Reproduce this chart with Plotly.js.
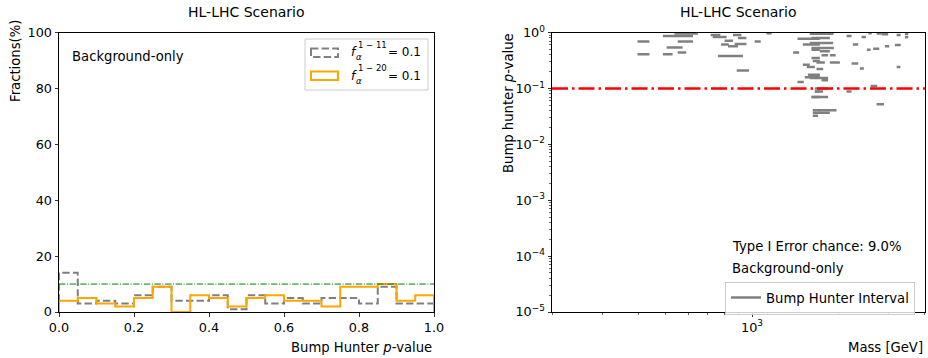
<!DOCTYPE html>
<html>
<head>
<meta charset="utf-8">
<script src="https://cdn.plot.ly/plotly-3.0.1.min.js"></script>
<style>body{margin:0;padding:0;background:#fff}#chart{width:928px;height:358px}</style>
</head>
<body>
<div id="chart"></div>
<script>
// ---------- data: left histogram ----------
const binEdges = [0.00,0.05,0.10,0.15,0.20,0.25,0.30,0.35,0.40,0.45,0.50,0.55,0.60,0.65,0.70,0.75,0.80,0.85,0.90,0.95,1.00];
const frac_1_11 = [14,3,4,3,6,9,4,4,6,1,6,3,5,3,5,5,3,9,3,3];   // gray dashed
const frac_1_20 = [4,5,3,2,5,9,0,6,5,2,5,6,4,4,2,9,9,10,4,6];   // orange
const refLevel = 10;
const xTickVals = [0,0.2,0.4,0.6,0.8,1.0];
const xTickText = ['0.0','0.2','0.4','0.6','0.8','1.0'];
const yTickVals = [0,20,40,60,80,100];

// ---------- data: right bump hunter intervals ----------
const massLo = [536,488,398,550,503,398,488,550,717,729,802,858,893,780,824,870,1022,1123,760,884,
  1392,1442,1505,1442,1529,1567,1505,1614,1631,1554,1614,1658,1614,1631,1631,1592,1614,1592,1614,1726,
  1750,1680,1871,1680,1592,1750,1658,1658,1614,1702,1631,1680,1871,2140,2415,2550,2726,2838,3202,3423,
  3423,2251,2914,3158,2520,2652,2228,2382,3202,2597,2140,2726];
const massHi = [647,622,438,622,572,438,528,589,775,815,858,918,956,830,893,956,1073,1172,930,976,
  1461,1726,1726,1517,1726,1726,1592,1726,1726,1658,1726,1726,1726,1726,1702,1921,1871,1921,1932,1871,
  1845,1797,2028,1772,1845,1845,1845,1772,1845,1974,1871,1932,1960,2228,2500,2620,2838,2992,3306,3516,
  3516,2350,3016,3310,2597,2784,2350,2460,3300,2739,2228,2891];
const pValue = [0.96,0.87,0.69,0.69,0.54,0.41,0.41,0.44,0.90,0.83,0.71,0.90,0.80,0.61,0.57,0.62,0.69,0.97,0.38,0.21,
  0.44,0.77,0.61,0.13,0.158,0.176,0.266,0.35,0.31,0.242,0.49,0.088,0.07,0.0405,0.0323,0.95,0.80,0.65,0.53,0.46,
  0.39,0.29,0.29,0.223,0.154,0.14,0.10,0.088,0.07,0.0405,0.0365,0.98,0.39,0.87,0.83,0.97,0.96,0.93,0.90,0.94,
  0.82,0.61,0.57,0.60,0.49,0.51,0.28,0.226,0.242,0.11,0.088,0.052];
const threshold = 0.1;
const massRange = [200, 4023];
const pTickVals = [1e-5,1e-4,1e-3,1e-2,1e-1,1];
const pTickText = ['10<sup>−5</sup>','10<sup>−4</sup>','10<sup>−3</sup>','10<sup>−2</sup>','10<sup>−1</sup>','10<sup>0</sup>'];
const massMinor = [200,300,400,500,600,700,800,900,2000,3000,4000];

// ---------- helpers ----------
const W = 928, H = 358;
const px = v => v / W;
const py = v => 1 - v / H;
function stepXY(edges, vals) {
  const xs = [edges[0]], ys = [0];
  for (let i = 0; i < vals.length; i++) { xs.push(edges[i]); ys.push(vals[i]); }
  xs.push(edges[edges.length - 1]); ys.push(vals[vals.length - 1]);
  xs.push(edges[edges.length - 1]); ys.push(0);
  return {xs, ys};
}
const g = stepXY(binEdges, frac_1_11);
const o = stepXY(binEdges, frac_1_20);

const segX = [], segY = [];
for (let i = 0; i < massLo.length; i++) {
  segX.push(massLo[i], massHi[i], null);
  segY.push(pValue[i], pValue[i], null);
}
const pMinor = [];
for (let e = -5; e < 0; e++) for (let k = 2; k <= 9; k++) pMinor.push(k * Math.pow(10, e));

const FONT = 'DejaVu Sans, Liberation Sans, sans-serif';
const TF = 12.8;   // tick labels
const LF = 13.2;   // labels / texts

const traces = [
  {x: g.xs, y: g.ys, type: 'scatter', mode: 'lines', line: {shape: 'hv', color: '#808080', width: 2, dash: '7.4px,3.2px'},
   xaxis: 'x', yaxis: 'y', showlegend: false, hoverinfo: 'skip'},
  {x: o.xs, y: o.ys, type: 'scatter', mode: 'lines', line: {shape: 'hv', color: '#FFA500', width: 2},
   xaxis: 'x', yaxis: 'y', showlegend: false, hoverinfo: 'skip'},
  {x: [0, 1], y: [refLevel, refLevel], type: 'scatter', mode: 'lines',
   line: {color: 'green', width: 1, dash: '6.4px,1.6px,1px,1.6px'}, xaxis: 'x', yaxis: 'y', showlegend: false, hoverinfo: 'skip'},
  {x: segX, y: segY, type: 'scatter', mode: 'lines', line: {color: '#808080', width: 2.5},
   connectgaps: false, xaxis: 'x2', yaxis: 'y2', name: 'Bump Hunter Interval', showlegend: true},
  {x: massRange, y: [threshold, threshold], type: 'scatter', mode: 'lines',
   line: {color: 'red', width: 2.5, dash: '16px,4px,2.5px,4px'}, xaxis: 'x2', yaxis: 'y2', showlegend: false, hoverinfo: 'skip'}
];

const axBase = {showline: true, mirror: true, linecolor: '#000', linewidth: 1, ticks: 'outside', ticklen: 3.5,
  tickwidth: 0.8, tickcolor: '#000', showgrid: false, zeroline: false, tickfont: {family: FONT, size: TF, color: '#000'}};

function ann(text, x, y, opts) {
  return Object.assign({text: text, xref: 'paper', yref: 'paper', x: px(x), y: py(y), xanchor: 'left', yanchor: 'middle',
    showarrow: false, font: {family: FONT, size: LF, color: '#000'}}, opts || {});
}

const layout = {
  width: W, height: H, autosize: false,
  margin: {l: 0, r: 0, t: 0, b: 0},
  paper_bgcolor: '#fff', plot_bgcolor: '#fff',
  font: {family: FONT, size: LF, color: '#000'},
  xaxis: Object.assign({}, axBase, {domain: [px(59), px(434)], range: [0, 1], tickvals: xTickVals, ticktext: xTickText, anchor: 'y'}),
  yaxis: Object.assign({}, axBase, {domain: [py(312), py(32.5)], range: [0, 100], tickvals: yTickVals, anchor: 'x'}),
  xaxis2: Object.assign({}, axBase, {domain: [px(552), px(925)], type: 'log', range: [Math.log10(massRange[0]), Math.log10(massRange[1])],
    tickvals: [1000], ticktext: ['10<sup>3</sup>'], anchor: 'y2',
    minor: {tickvals: massMinor, ticks: 'outside', ticklen: 2, tickwidth: 0.6, tickcolor: '#000'}}),
  yaxis2: Object.assign({}, axBase, {domain: [py(312), py(32.5)], type: 'log', range: [-5, 0],
    tickvals: pTickVals, ticktext: pTickText, anchor: 'x2',
    minor: {tickvals: pMinor, ticks: 'outside', ticklen: 2, tickwidth: 0.6, tickcolor: '#000'}}),
  showlegend: true,
  legend: {x: px(725), y: py(281.5), xanchor: 'left', yanchor: 'top', bgcolor: 'rgba(255,255,255,0.8)',
    bordercolor: '#cccccc', borderwidth: 1, font: {family: FONT, size: LF, color: '#000'}},
  shapes: [
    {type: 'rect', xref: 'paper', yref: 'paper', x0: px(305), x1: px(428), y0: py(39), y1: py(90),
     line: {color: '#cccccc', width: 1}, fillcolor: 'rgba(255,255,255,0.8)'},
    {type: 'rect', xref: 'paper', yref: 'paper', x0: px(311), x1: px(338), y0: py(48.5), y1: py(57),
     line: {color: '#808080', width: 2, dash: '7.4px,3.2px'}, fillcolor: 'rgba(0,0,0,0)'},
    {type: 'rect', xref: 'paper', yref: 'paper', x0: px(311), x1: px(338), y0: py(71.5), y1: py(80),
     line: {color: '#FFA500', width: 2}, fillcolor: 'rgba(0,0,0,0)'}
  ],
  annotations: [
    ann('HL-LHC Scenario', 246.5, 12, {xanchor: 'center', font: {family: FONT, size: 14, color: '#000'}}),
    ann('HL-LHC Scenario', 738.5, 12, {xanchor: 'center', font: {family: FONT, size: 14, color: '#000'}}),
    ann('Fractions(%)', 16, 61, {textangle: -90, xanchor: 'center'}),
    ann('Bump Hunter <i>p</i>-value', 434, 347, {xanchor: 'right'}),
    ann('Background-only', 70, 56),
    ann('<i>f</i>', 349, 52.5, {font: {family: FONT, size: 12, color: '#000'}}),
    ann('1 − 11', 356, 44.5, {font: {family: FONT, size: 8.5, color: '#000'}}),
    ann('<i>α</i>', 354, 57.5, {font: {family: FONT, size: 8.5, color: '#000'}}),
    ann('= 0.1', 386, 52.5, {font: {family: FONT, size: 12, color: '#000'}}),
    ann('<i>f</i>', 349, 75.5, {font: {family: FONT, size: 12, color: '#000'}}),
    ann('1 − 20', 356, 67.5, {font: {family: FONT, size: 8.5, color: '#000'}}),
    ann('<i>α</i>', 354, 80.5, {font: {family: FONT, size: 8.5, color: '#000'}}),
    ann('= 0.1', 386, 75.5, {font: {family: FONT, size: 12, color: '#000'}}),
    ann('Bump hunter <i>p</i>-value', 508, 103, {textangle: -90, xanchor: 'center'}),
    ann('Mass [GeV]', 925, 347, {xanchor: 'right'}),
    ann('Type I Error chance: 9.0%', 730, 246),
    ann('Background-only', 730, 268)
  ]
};

Plotly.newPlot('chart', traces, layout, {displayModeBar: false, staticPlot: true});
</script>
</body>
</html>
